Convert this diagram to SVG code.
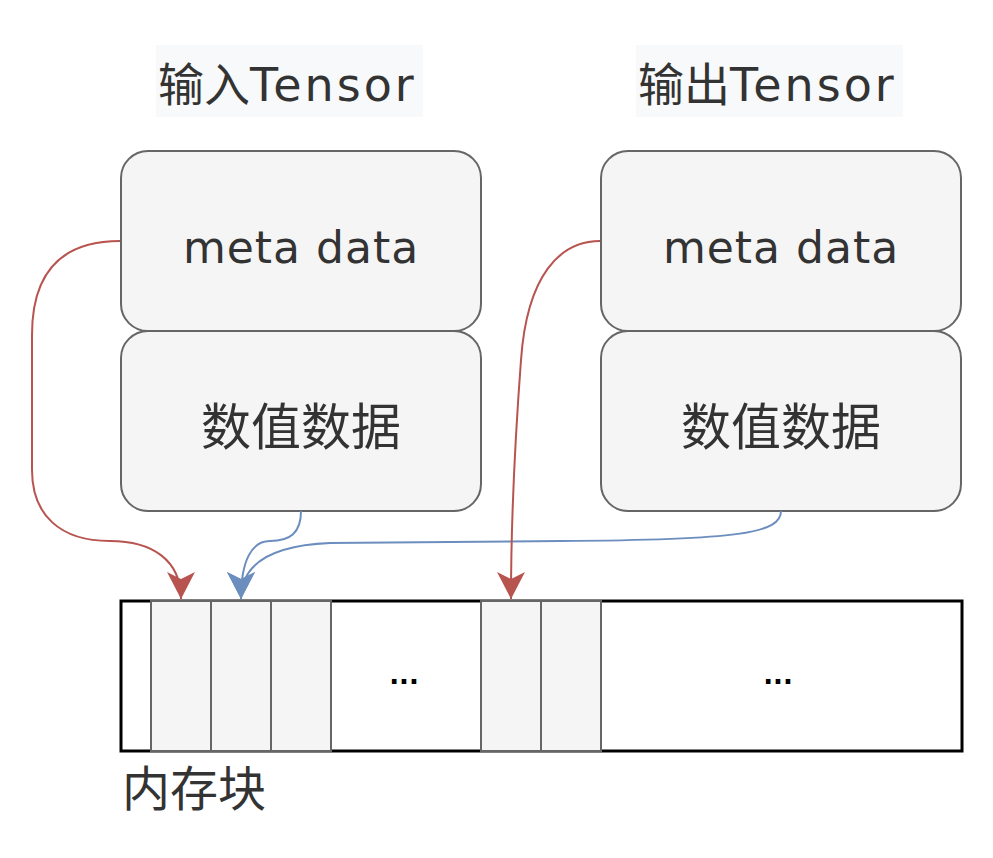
<svg xmlns="http://www.w3.org/2000/svg" width="993" height="858" viewBox="0 0 993 858">
<style>
.box{fill:#f5f5f5;stroke:#666666;stroke-width:2}
.cell{fill:#f5f5f5;stroke:#666666;stroke-width:2}
.title{font-family:"DejaVu Sans","Noto Sans CJK SC",sans-serif;font-size:46px;fill:#333333}
.meta{font-family:"DejaVu Sans","Noto Sans CJK SC",sans-serif;font-size:44px;fill:#333333;text-anchor:middle;letter-spacing:1px}
.cjk{font-family:"Noto Sans CJK SC",sans-serif;font-size:50px;fill:#333333;text-anchor:middle}
.dots{font-family:"DejaVu Sans",sans-serif;font-size:26px;font-weight:bold;fill:#000000;text-anchor:middle}
.red{fill:none;stroke:#b85450;stroke-width:2}
.blue{fill:none;stroke:#6c8ebf;stroke-width:2}
</style>
<defs>
<marker id="ar" markerUnits="userSpaceOnUse" markerWidth="32" markerHeight="32" viewBox="-30 -16 32 32" refX="0" refY="0" orient="auto">
<path d="M0,0 L-27,-14 L-20,0 L-27,14 Z" fill="#b85450"/>
</marker>
<marker id="ab" markerUnits="userSpaceOnUse" markerWidth="32" markerHeight="32" viewBox="-30 -16 32 32" refX="0" refY="0" orient="auto">
<path d="M0,0 L-27,-14 L-20,0 L-27,14 Z" fill="#6c8ebf"/>
</marker>
</defs>
<rect width="993" height="858" fill="#ffffff"/>

<g id="title-in">
<rect x="156" y="45" width="267" height="72" fill="#f8f9fa"/>
<text class="title" x="158" y="101">输入<tspan letter-spacing="3">Tensor</tspan></text>
</g>
<g id="title-out">
<rect x="636" y="45" width="267" height="72" fill="#f8f9fa"/>
<text class="title" x="638" y="101">输出<tspan letter-spacing="3">Tensor</tspan></text>
</g>

<g id="in-meta">
<rect class="box" x="121" y="151" width="360" height="180" rx="27"/>
<text class="meta" x="301" y="263">meta data</text>
</g>
<g id="in-data">
<rect class="box" x="121" y="331" width="360" height="180" rx="27"/>
<text class="cjk" x="301" y="445">数值数据</text>
</g>
<g id="out-meta">
<rect class="box" x="601" y="151" width="360" height="180" rx="27"/>
<text class="meta" x="781" y="263">meta data</text>
</g>
<g id="out-data">
<rect class="box" x="601" y="331" width="360" height="180" rx="27"/>
<text class="cjk" x="781" y="445">数值数据</text>
</g>

<g id="memory">
<rect x="121" y="601" width="841" height="150" fill="#ffffff" stroke="#000000" stroke-width="3"/>
<rect class="cell" x="151" y="601" width="60" height="150"/>
<rect class="cell" x="211" y="601" width="60" height="150"/>
<rect class="cell" x="271" y="601" width="60" height="150"/>
<rect class="cell" x="481" y="601" width="60" height="150"/>
<rect class="cell" x="541" y="601" width="60" height="150"/>
<text class="dots" x="404" y="684">...</text>
<text class="dots" x="778" y="684">...</text>
</g>
<g id="memory-label">
<text font-family="Noto Sans CJK SC, sans-serif" font-size="48" fill="#333333" x="122" y="806">内存块</text>
</g>

<g id="connectors">
<path class="red" d="M120,241 C62,241 32,272 32,335 L32,470 C32,515 60,541 110,541 C152,541 181,560 181,599" marker-end="url(#ar)"/>
<path class="blue" d="M301,511 C301,533 290,541 270,541 C252,541 241,560 241,599" marker-end="url(#ab)"/>
<path class="blue" d="M781,511 C781,533 740,540 560,541 L330,543 C282,545 241,558 241,599" marker-end="url(#ab)"/>
<path class="red" d="M600,241 C560,241 527,275 521,360 C515,440 511,520 511,599" marker-end="url(#ar)"/>
</g>
</svg>
